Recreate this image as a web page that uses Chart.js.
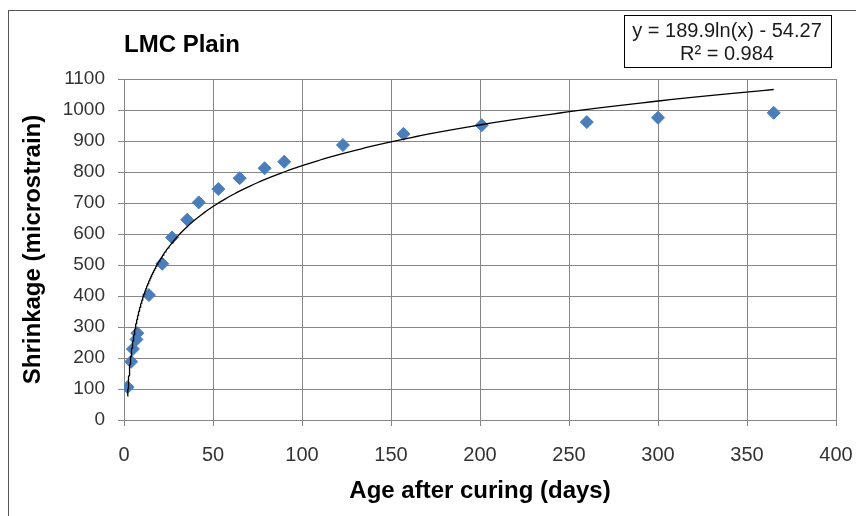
<!DOCTYPE html>
<html>
<head>
<meta charset="utf-8">
<script src="https://cdn.jsdelivr.net/npm/chart.js@4/dist/chart.umd.min.js"></script>
<style>
  html, body { margin: 0; padding: 0; background: #ffffff; }
  #wrap { width: 856px; height: 516px; position: relative; }
</style>
</head>
<body>
<div id="wrap"><canvas id="c" width="856" height="516"></canvas></div>
<script>
// ---- data ----
const chartTitle = 'LMC Plain';
const xAxisTitle = 'Age after curing (days)';
const yAxisTitle = 'Shrinkage (microstrain)';
const ageDays   = [2, 4, 5, 7, 7.5, 14, 21.5, 27, 35.5, 42, 53, 65, 79, 90, 123, 157, 201, 260, 300, 365];
const shrinkage = [106, 188, 229, 260, 280, 403, 504, 589, 646, 702, 745, 780, 812, 833, 887, 923, 951, 961, 975, 991];
// logarithmic trendline shown in the reference: y = a*ln(x) + b
const trendA = 189.9;
const trendB = -54.27;
const trendLabel = ['y = 189.9ln(x) - 54.27', 'R\u00B2 = 0.984'];
const xTicks = [0, 50, 100, 150, 200, 250, 300, 350, 400];
const yTicks = [0, 100, 200, 300, 400, 500, 600, 700, 800, 900, 1000, 1100];

const points = ageDays.map((d, i) => ({ x: d, y: shrinkage[i] }));
const xMinData = Math.min(...ageDays), xMaxData = Math.max(...ageDays);
const trend = [];
for (let i = 0; i <= 300; i++) {
  const x = xMinData * Math.pow(xMaxData / xMinData, i / 300);
  trend.push({ x: x, y: trendA * Math.log(x) + trendB });
}

const GRID = '#878787';
const decor = {
  id: 'decor',
  afterDraw(chart) {
    const ctx = chart.ctx;
    ctx.save();
    // outer chart border
    ctx.strokeStyle = '#555555';
    ctx.lineWidth = 1;
    ctx.strokeRect(8.5, 10.5, 900, 600);
    // title
    ctx.fillStyle = '#000000';
    ctx.font = 'bold 24px "Liberation Sans", Arial, sans-serif';
    ctx.textBaseline = 'middle';
    ctx.textAlign = 'left';
    ctx.fillText(chartTitle, 124, 45);
    // equation box
    ctx.fillStyle = '#ffffff';
    ctx.fillRect(624, 15, 208, 53);
    ctx.strokeStyle = '#000000';
    ctx.strokeRect(624.5, 15.5, 207, 52);
    ctx.fillStyle = '#1a1a1a';
    ctx.font = '20px "Liberation Sans", Arial, sans-serif';
    ctx.textAlign = 'center';
    ctx.fillText(trendLabel[0], 727, 31);
    ctx.fillText(trendLabel[1], 727, 54);
    ctx.restore();
  }
};

new Chart(document.getElementById('c'), {
  type: 'scatter',
  data: {
    datasets: [
      {
        label: 'trend',
        data: trend,
        showLine: true,
        borderColor: '#000000',
        borderWidth: 1.3,
        pointRadius: 0,
        fill: false,
        tension: 0,
        order: 0
      },
      {
        label: 'LMC Plain',
        data: points,
        pointStyle: 'rectRot',
        pointRadius: 6.5,
        pointBackgroundColor: '#4a7ebb',
        pointBorderColor: '#4a7ebb',
        pointBorderWidth: 1,
        showLine: false,
        order: 1
      }
    ]
  },
  options: {
    responsive: false,
    animation: false,
    devicePixelRatio: 1,
    layout: { padding: { left: 0, right: 20, top: 79, bottom: 0 } },
    plugins: {
      legend: { display: false },
      tooltip: { enabled: false },
      title: { display: false }
    },
    scales: {
      x: {
        type: 'linear',
        min: 0, max: 400,
        afterBuildTicks(scale) { scale.ticks = xTicks.map(v => ({ value: v })); },
        afterFit(scale) { scale.height = 96; scale.paddingLeft = 0; scale.paddingRight = 0; },
        grid: { color: GRID, lineWidth: 1, drawTicks: true, tickLength: 6, tickColor: GRID },
        border: { color: GRID, width: 1 },
        ticks: {
          color: '#333333',
          font: { family: '"Liberation Sans", Arial, sans-serif', size: 20 },
          padding: 17,
          maxRotation: 0,
          callback: v => String(v)
        },
        title: {
          display: true,
          text: xAxisTitle,
          color: '#000000',
          font: { family: '"Liberation Sans", Arial, sans-serif', size: 24, weight: 'bold' },
          padding: { top: 0, bottom: 10 }
        }
      },
      y: {
        type: 'linear',
        min: 0, max: 1100,
        afterBuildTicks(scale) { scale.ticks = yTicks.map(v => ({ value: v })); },
        afterFit(scale) { scale.width = 124; scale.paddingTop = 0; scale.paddingBottom = 0; },
        grid: { color: GRID, lineWidth: 1, drawTicks: true, tickLength: 6, tickColor: GRID },
        border: { color: GRID, width: 1 },
        ticks: {
          color: '#333333',
          font: { family: '"Liberation Sans", Arial, sans-serif', size: 19 },
          padding: 13,
          callback: v => String(v)
        },
        title: {
          display: true,
          text: yAxisTitle,
          color: '#000000',
          font: { family: '"Liberation Sans", Arial, sans-serif', size: 24, weight: 'bold' },
          padding: { top: 19, bottom: 0 }
        }
      }
    }
  },
  plugins: [decor]
});
</script>
</body>
</html>
